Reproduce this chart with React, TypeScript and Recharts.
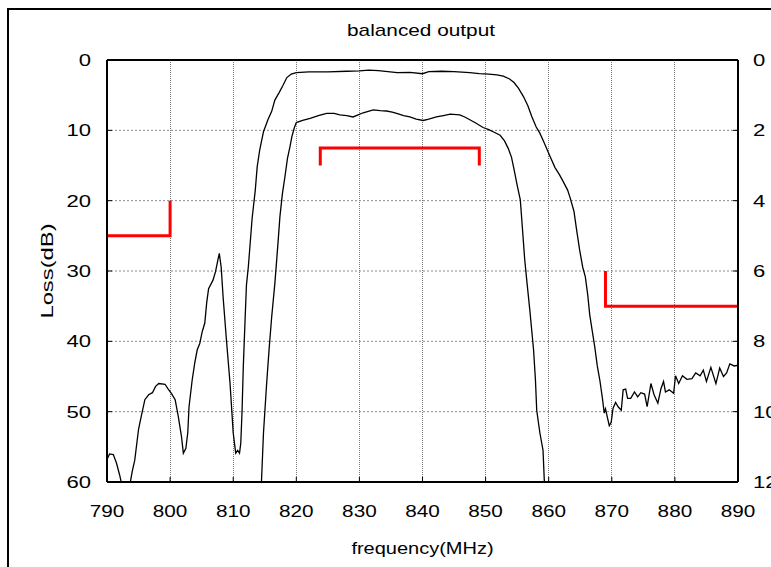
import { CartesianGrid, Customized, Line, LineChart, ReferenceLine, XAxis, YAxis } from 'recharts'

// measured response, frequency in MHz / loss in dB
const lowLossFreq = [
  790, 790.4, 791, 791.5, 792, 792.5, 793, 793.6, 794, 794.4, 795, 795.3, 796, 796.6, 797.2, 797.7, 798.2, 799.2,
  799.7, 800.2, 800.8, 801.3, 801.8, 802.1, 802.5, 802.8, 803, 803.5, 803.9, 804.3, 804.7, 805.1, 805.5, 805.8,
  806.1, 806.8, 807.2, 807.6, 807.8, 808.1, 808.4, 808.9, 809.5, 810, 810.4, 810.7, 811, 811.2, 811.4, 811.6,
  811.9, 812.1, 812.4, 813, 813.5, 813.8, 814.2, 814.8, 815.5, 816.1, 816.6, 817.3, 817.9, 818.5, 819.2, 820,
  822, 825, 828, 830, 831.5, 833, 834.5, 836, 838, 840, 841, 843, 845, 847.5, 849, 850.5, 851.8, 852.8, 853.8,
  854.5, 855.2, 856, 856.7, 857.3, 858, 858.6, 859.3, 860.2, 861, 861.7, 862.3, 863, 863.4, 864, 864.4, 864.9,
  865.4, 865.8, 866.2, 866.5, 866.9, 867.3, 867.7, 868.1, 868.5, 868.8, 869, 869.3, 869.6, 869.9, 870.2, 870.6,
  871, 871.5, 871.8, 872.2, 872.5, 873, 873.6, 874.1, 874.6, 875.2, 875.6, 876.2, 876.7, 877.3, 877.8, 878.2,
  878.5, 879.1, 879.8, 880.1, 880.6, 881.2, 881.9, 882.7, 883.3, 884, 884.5, 885, 885.7, 886.5, 887.1, 887.7,
  888.2, 888.7, 889.4, 890,
]
const lowLossDb = [
  56.8, 56, 56.1, 57.3, 59, 61, 62.5, 60.5, 58.5, 56.9, 52.5, 51.2, 48.3, 47.6, 47.3, 46.4, 46, 46.1,
  46.8, 47.4, 48.3, 50.7, 53.5, 55.9, 55.2, 53, 49.3, 45.5, 43.1, 41.2, 40.3, 38.6, 37.4, 34.5,
  32.5, 31.3, 30.1, 28.3, 27.5, 29.5, 33.7, 39.5, 46, 53, 55.9, 55.5, 55.9, 54.5, 50, 43.6,
  36.5, 32, 29.4, 22.5, 18.5, 15.2, 12.8, 10.2, 8.5, 7.3, 5.7, 4.6, 3.6, 2.5, 2, 1.8,
  1.7, 1.7, 1.6, 1.55, 1.45, 1.5, 1.65, 1.8, 1.75, 1.95, 1.65, 1.6, 1.65, 1.8, 1.95, 2, 2.1, 2.3, 2.7,
  3.2, 4, 5.2, 6.5, 8, 9.5, 10.4, 11.8, 13.7, 15.3, 16.3, 17.3, 18.5, 19.6, 21.5, 24, 27,
  29.5, 30.8, 33.5, 36.2, 38.5, 40.8, 43.5, 45.5, 48, 50.2, 49.6, 50.8, 52, 51.5, 49.5, 48.7,
  49.3, 49.8, 46.9, 46.8, 48.1, 48.1, 47.2, 47.9, 47.3, 47.5, 49.3, 46, 47.6, 48.8, 46.7, 45.7,
  47.2, 46.9, 47.4, 44.9, 46, 44.9, 45.4, 45.3, 44.5, 44.9, 44.1, 45.7, 43.7, 46, 43.8, 45,
  44.5, 43.2, 43.5, 43.4,
]

const highLossFreq = [
  814.3, 814.5, 814.8, 815.3, 815.7, 816.1, 816.6, 817.1, 817.4, 817.8, 818.2, 818.6, 819, 819.3, 819.7, 820,
  821, 822.2, 823.5, 824.8, 826, 826.9, 828, 829, 829.8, 830.6, 831.4, 832.2, 833.3, 834.3, 835.2, 835.9,
  837, 838, 839, 840.1, 841, 842.2, 843.3, 844.4, 845.9, 846.7, 847.5, 848.5, 849.6, 850.5, 851.2, 852.3,
  853, 853.6, 854.1, 854.5, 855, 855.5, 855.8, 856.2, 856.6, 857, 857.6, 857.9, 858.1, 858.6, 859.1, 859.3,
  859.45,
]
const highLossDb = [
  63, 59.5, 53, 46, 41, 36.5, 31.8, 26, 22.3, 19, 16.6, 14, 12.3, 10.9, 9.6, 8.9,
  8.6, 8.3, 7.9, 7.6, 7.6, 7.8, 7.9, 8.1, 7.8, 7.5, 7.3, 7.1, 7.2, 7.25, 7.4, 7.6,
  7.9, 8.1, 8.4, 8.6, 8.4, 8.1, 7.9, 7.7, 7.8, 8.1, 8.5, 9, 9.6, 9.9, 10.2, 10.7,
  11.5, 12.6, 13.8, 15.5, 17.8, 19.9, 23.5, 28.4, 32, 35.5, 41.2, 45.5, 49.8, 53, 55.5, 59.7,
  63,
]

// spec masks
const lowRejFreq = [790, 800, 800]
const lowRejDb = [25, 25, 20]
const passFreq = [823.8, 823.8, 849, 849]
const passIl = [3, 2.5, 2.5, 3] // right axis
const highRejFreq = [869, 869, 890]
const highRejDb = [30, 35, 35]

const xTicks = [790, 800, 810, 820, 830, 840, 850, 860, 870, 880, 890]
const lossTicks = [0, 10, 20, 30, 40, 50, 60]
const ilTicks = [0, 2, 4, 6, 8, 10, 12]

const pairs = (f: number[], v: number[]) => f.map((x, i) => ({ f: x, v: v[i] }))

const lowLoss = pairs(lowLossFreq, lowLossDb)
const highLoss = pairs(highLossFreq, highLossDb)
const lowRej = pairs(lowRejFreq, lowRejDb)
const passMask = pairs(passFreq, passIl)
const highRej = pairs(highRejFreq, highRejDb)

// horizontal grid as flat series across the full span (CartesianGrid won't draw them here)
const hGrid = lossTicks.slice(1, -1).map((t) => pairs([xTicks[0], xTicks[xTicks.length - 1]], [t, t]))

const FONT = '"Liberation Sans", Arial, sans-serif'

const XTick = ({ x, y, payload }: any) => (
  <text transform={`translate(${x},${y + 12}) scale(1.22,1)`} textAnchor="middle" fontSize={17} fontFamily={FONT} fill="#000">
    {payload.value}
  </text>
)

const LeftTick = ({ x, y, payload }: any) => (
  <text transform={`translate(${x},${y + 6}) scale(1.3,1)`} textAnchor="end" fontSize={17} fontFamily={FONT} fill="#000">
    {payload.value}
  </text>
)

const RightTick = ({ x, y, payload }: any) => (
  <text transform={`translate(${x},${y + 6}) scale(1.3,1)`} textAnchor="start" fontSize={17} fontFamily={FONT} fill="#000">
    {payload.value}
  </text>
)

const XLabel = ({ viewBox }: any) => (
  <text
    transform={`translate(${viewBox.x + viewBox.width / 2},${viewBox.y + 72}) scale(1.25,1)`}
    textAnchor="middle" fontSize={16} fontFamily={FONT} fill="#000"
  >
    frequency(MHz)
  </text>
)

const YLabel = ({ viewBox }: any) => (
  <text
    transform={`translate(${viewBox.x + 47},${viewBox.y + viewBox.height / 2}) rotate(-90) scale(1.4,1)`}
    textAnchor="middle" dy="0.35em" fontSize={17} fontFamily={FONT} fill="#000"
  >
    Loss(dB)
  </text>
)

const Title = () => (
  <text transform="translate(421,36) scale(1.3,1)" textAnchor="middle" fontSize={16} fontFamily={FONT} fill="#000">
    balanced output
  </text>
)

export default function App() {
  return (
    <div style={{ position: 'absolute', left: 0, top: 0, width: 771, height: 567, overflow: 'hidden', background: '#fff' }}>
      <div style={{ position: 'absolute', left: 7, top: 8, width: 900, height: 700, border: '2px solid #000', boxSizing: 'border-box' }} />
      <div style={{ position: 'absolute', left: 0, top: 0 }}>
        <LineChart width={771} height={567} margin={{ top: 60, right: 0, bottom: 0, left: 0 }}>
          <XAxis
            dataKey="f" type="number" domain={[790, 890]} ticks={xTicks} interval={0} allowDataOverflow
            height={85} tickSize={-5} tickMargin={28} tick={XTick}
            axisLine={{ stroke: '#000', strokeWidth: 2 }} tickLine={{ stroke: '#000' }}
            label={{ content: XLabel }}
          />
          <YAxis
            yAxisId="left" type="number" domain={[0, 60]} reversed ticks={lossTicks} interval={0} allowDataOverflow
            width={107} tickSize={-5} tickMargin={21} tick={LeftTick}
            axisLine={{ stroke: '#000', strokeWidth: 2 }} tickLine={{ stroke: '#000' }}
            label={{ content: YLabel }}
          />
          <YAxis
            yAxisId="right" orientation="right" type="number" domain={[0, 12]} reversed ticks={ilTicks} interval={0}
            allowDataOverflow width={33} tickSize={-5} tickMargin={20} tick={RightTick}
            axisLine={{ stroke: '#000', strokeWidth: 2 }} tickLine={{ stroke: '#000' }}
          />
          <CartesianGrid yAxisId="left" horizontal={false} stroke="#777" strokeDasharray="1 1" shapeRendering="crispEdges" />
          {hGrid.map((g, i) => (
            <Line
              key={`grid-${i}`} data={g} dataKey="v" yAxisId="left" type="linear" stroke="#888" strokeWidth={1}
              strokeDasharray="2 2" dot={false} activeDot={false} legendType="none" isAnimationActive={false}
            />
          ))}
          <ReferenceLine yAxisId="left" y={0} stroke="#000" strokeWidth={2} />
          <Line data={lowLoss} dataKey="v" yAxisId="left" type="linear" stroke="#000" strokeWidth={1.3} dot={false} isAnimationActive={false} />
          <Line data={highLoss} dataKey="v" yAxisId="left" type="linear" stroke="#000" strokeWidth={1.3} dot={false} isAnimationActive={false} />
          <Line data={lowRej} dataKey="v" yAxisId="left" type="linear" stroke="#ff0000" strokeWidth={3} dot={false} isAnimationActive={false} />
          <Line data={passMask} dataKey="v" yAxisId="right" type="linear" stroke="#ff0000" strokeWidth={3} dot={false} isAnimationActive={false} />
          <Line data={highRej} dataKey="v" yAxisId="left" type="linear" stroke="#ff0000" strokeWidth={3} dot={false} isAnimationActive={false} />
          <Customized component={Title} />
        </LineChart>
      </div>
    </div>
  )
}
